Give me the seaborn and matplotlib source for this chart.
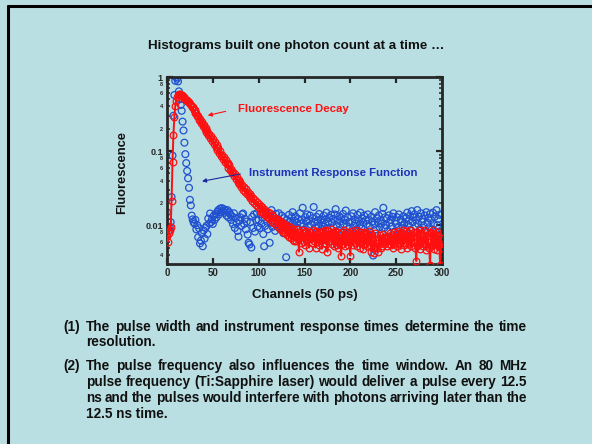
import numpy as np
import seaborn as sns
import matplotlib
import matplotlib.pyplot as plt
from matplotlib.ticker import LogLocator, FuncFormatter, MultipleLocator, NullLocator
from matplotlib.transforms import IdentityTransform
from matplotlib.lines import Line2D

sns.set_style('ticks')
plt.rcParams['font.family'] = ['Liberation Sans', 'DejaVu Sans']
plt.rcParams['font.weight'] = 'bold'

# --- данные (значения в единицах 1e-4) ---
channels = np.arange(301)

decay = [
    72, 60, 78, 85, 95, 210, 720, 1650, 2900, 4000,
    4800, 5400, 5800, 5950, 5900, 5800, 5650, 5500, 5350, 5200,
    5100, 4850, 4900, 4550, 4600, 4300, 4250, 3900, 3950, 3600,
    3550, 3250, 3300, 2950, 3000, 2650, 2750, 2400, 2500, 2200,
    2250, 1980, 2050, 1800, 1880, 1650, 1720, 1500, 1580, 1380,
    1450, 1260, 1310, 1140, 1220, 1050, 1100, 940, 1000, 860,
    900, 790, 830, 710, 760, 660, 700, 600, 640, 550,
    580, 500, 530, 455, 490, 415, 450, 385, 410, 355,
    380, 325, 350, 300, 325, 280, 305, 265, 285, 245,
    265, 230, 250, 212, 232, 200, 218, 185, 205, 175,
    192, 165, 182, 150, 175, 148, 165, 138, 158, 130,
    150, 124, 145, 118, 138, 112, 132, 108, 126, 102,
    122, 96, 118, 90, 112, 86, 108, 82, 104, 78,
    100, 74, 98, 70, 94, 68, 90, 64, 88, 62,
    82, 62, 88, 66, 44, 80, 58, 72, 86, 60,
    78, 54, 84, 64, 74, 50, 82, 68, 58, 86,
    62, 80, 50, 84, 60, 76, 54, 82, 66, 48,
    84, 58, 86, 56, 72, 44, 84, 62, 70, 88,
    56, 80, 52, 84, 64, 54, 80, 50, 76, 60,
    39, 80, 56, 86, 52, 72, 82, 54, 78, 62,
    39, 74, 84, 54, 78, 58, 86, 52, 72, 82,
    60, 50, 82, 68, 48, 80, 56, 76, 52, 72,
    84, 54, 76, 44, 70, 54, 42, 78, 58, 50,
    43, 64, 74, 50, 68, 52, 76, 56, 70, 60,
    52, 72, 56, 78, 54, 74, 50, 70, 82, 56,
    76, 52, 84, 58, 72, 48, 78, 86, 54, 74,
    58, 84, 50, 78, 56, 86, 52, 76, 60, 82,
    62, 50, 33, 82, 54, 86, 48, 78, 58, 52,
    86, 56, 74, 46, 80, 60, 50, 29, 78, 54,
    86, 48, 76, 56, 82, 46, 72, 54, 29, 68,
    50,
]

irf = [
    150, 110, 85, 95, 110, 240, 870, 3000, 5700, 8900,
    10000, 9500, 8700, 6400, 5000, 4200, 3500, 2500, 1900, 1300,
    910, 690, 540, 430, 320, 220, 185, 135, 120, 110,
    105, 118, 88, 100, 69, 91, 57, 62, 78, 52,
    85, 66, 92, 98, 76, 123, 105, 144, 110, 120,
    104, 135, 118, 142, 128, 152, 160, 140, 168, 150,
    170, 155, 165, 148, 158, 135, 160, 128, 150, 140,
    118, 132, 104, 145, 92, 125, 108, 84, 70, 115,
    128, 98, 140, 144, 104, 122, 88, 112, 75, 58,
    55, 110, 50, 130, 92, 140, 82, 118, 145, 96,
    118, 92, 140, 105, 128, 76, 52, 98, 150, 112,
    88, 125, 58, 108, 160, 95, 132, 115, 84, 142,
    102, 120, 145, 90, 110, 135, 98, 78, 125, 106,
    37, 118, 96, 138, 112, 82, 128, 150, 100, 115,
    132, 94, 108, 122, 70, 145, 105, 118, 172, 98,
    86, 128, 112, 140, 95, 118, 135, 102, 80, 124,
    176, 110, 92, 130, 115, 100, 142, 84, 120, 108,
    96, 135, 118, 104, 148, 90, 112, 126, 74, 138,
    108, 122, 94, 140, 165, 100, 118, 86, 132, 112,
    125, 80, 142, 104, 118, 158, 96, 128, 110, 90,
    78, 132, 112, 145, 98, 120, 106, 88, 138, 115,
    100, 148, 90, 124, 110, 135, 76, 118, 104, 140,
    120, 96, 72, 130, 112, 39, 102, 150, 88, 125,
    110, 135, 94, 118, 105, 142, 172, 92, 128, 100,
    124, 84, 136, 108, 118, 96, 130, 145, 82, 115,
    104, 128, 92, 140, 78, 120, 112, 98, 132, 106,
    90, 125, 148, 100, 116, 135, 86, 155, 110, 128,
    140, 96, 118, 160, 104, 130, 88, 145, 112, 122,
    98, 136, 84, 150, 108, 125, 94, 142, 118, 88,
    148, 104, 130, 82, 160, 100, 122, 138, 60, 57,
    140,
]

decay = np.array(decay) / 1e4
irf = np.array(irf) / 1e4

title = 'Histograms built one photon count at a time \u2026'
notes = [
    ('(1)', ['The pulse width and instrument response times determine the time',
             'resolution.']),
    ('(2)', ['The pulse frequency also influences the time window. An 80 MHz',
             'pulse frequency (Ti:Sapphire laser) would deliver a pulse every 12.5',
             'ns and the pulses would interfere with photons arriving later than the',
             '12.5 ns time.']),
]

bg = '#badfe3'
red = '#ff1010'
blue = '#2050d0'

W, H = 592, 444
fig = plt.figure(figsize=(W / 100, H / 100), dpi=100, facecolor=bg)
ax = fig.add_axes([167 / W, 1 - 264 / H, 275 / W, 187 / H])
ax.set_facecolor(bg)

# IRF - синие кружки
sc = sns.scatterplot(x=channels, y=irf, ax=ax, marker='o', s=24,
                     color=blue, linewidth=0.9, zorder=2)
sc.collections[0].set_facecolor('none')
sc.collections[0].set_edgecolor(blue)

# затухание флуоресценции - красная линия с кружками
sns.lineplot(x=channels, y=decay, ax=ax, color=red, lw=1.4, marker='o',
             markersize=4.8, markerfacecolor='none', markeredgecolor=red,
             markeredgewidth=0.9, zorder=3)

ax.set_yscale('log')
ax.set_xlim(0, 300)
ax.set_ylim(0.003, 1.0)
ax.set_xlabel('')
ax.set_ylabel('')

ax.xaxis.set_major_locator(MultipleLocator(50))
ax.xaxis.set_minor_locator(NullLocator())
ax.yaxis.set_major_locator(LogLocator(base=10, numticks=10))
ax.yaxis.set_minor_locator(LogLocator(base=10, subs=np.arange(2, 10), numticks=20))
ax.yaxis.set_major_formatter(FuncFormatter(lambda v, p: '%g' % v))


def minor_fmt(v, p):
    m = v / 10 ** np.floor(np.log10(v) + 1e-9)
    d = int(round(m))
    return str(d) if d in (2, 4, 6, 8) else ''


ax.yaxis.set_minor_formatter(FuncFormatter(minor_fmt))

for s in ax.spines.values():
    s.set_linewidth(2)
    s.set_visible(True)
ax.tick_params(which='both', direction='in', top=True, right=True)
ax.tick_params(which='major', length=4.5, width=1.6, pad=3)
ax.tick_params(axis='x', which='major', labelsize=7)
ax.tick_params(axis='y', which='major', labelsize=6.5)
ax.tick_params(axis='y', which='minor', length=2.5, width=1.1, labelsize=4, pad=3)

# подписи со стрелками
ax.annotate('', xy=(41.5, 0.297), xytext=(67, 0.351),
            arrowprops=dict(arrowstyle='-|>', color=red, lw=0.8, mutation_scale=6))
ax.text(77, 0.366, 'Fluorescence Decay', color=red, fontsize=8.2,
        fontweight='bold', ha='left', va='center')
ax.annotate('', xy=(35.2, 0.0385), xytext=(83, 0.050),
            arrowprops=dict(arrowstyle='-|>', color='#1a2a9a', lw=0.8, mutation_scale=6))
ax.text(89.5, 0.050, 'Instrument Response Function', color='#1c30b8', fontsize=8.2,
        fontweight='bold', ha='left', va='center')

fig.text(0.5, 1 - 46 / H, title, ha='center', va='center', fontsize=9.6,
         fontweight='bold', color='#111111')
fig.text(122 / W, 1 - 172.5 / H, 'Fluorescence', rotation=90, ha='center',
         va='center', fontsize=9.3, fontweight='bold', color='#111111')
fig.text(304.5 / W, 1 - 295 / H, 'Channels (50 ps)', ha='center', va='center',
         fontsize=9.5, fontweight='bold', color='#111111')

# рамка слайда
fig.add_artist(Line2D([7.5 / W, 7.5 / W], [0, 1 - 6 / H], color='black', lw=2.2,
                      transform=fig.transFigure))
fig.add_artist(Line2D([7.5 / W, 1], [1 - 6 / H, 1 - 6 / H], color='black', lw=2.2,
                      transform=fig.transFigure))

# текст по ширине (justified)
renderer = fig.canvas.get_renderer()
ident = IdentityTransform()
fs = 9.8
x0, x1 = 86, 527
y = 326.7
for num, lines in notes:
    fig.text(63, H - y, num, transform=ident, ha='left', va='center',
             fontsize=fs, fontweight='bold', color='#111111')
    for i, line in enumerate(lines):
        words = line.split()
        last = i == len(lines) - 1
        if last:
            fig.text(x0, H - y, line, transform=ident, ha='left', va='center',
                     fontsize=fs, fontweight='bold', color='#111111')
        else:
            objs = [fig.text(0, H - y, w, transform=ident, ha='left', va='center',
                             fontsize=fs, fontweight='bold', color='#111111')
                    for w in words]
            widths = [t.get_window_extent(renderer).width for t in objs]
            gap = (x1 - x0 - sum(widths)) / (len(words) - 1)
            xx = x0
            for t, w in zip(objs, widths):
                t.set_x(xx)
                xx += w + gap
        y += 15.7
    y += 8.3

fig.savefig('out.png', dpi=100, facecolor=bg)
